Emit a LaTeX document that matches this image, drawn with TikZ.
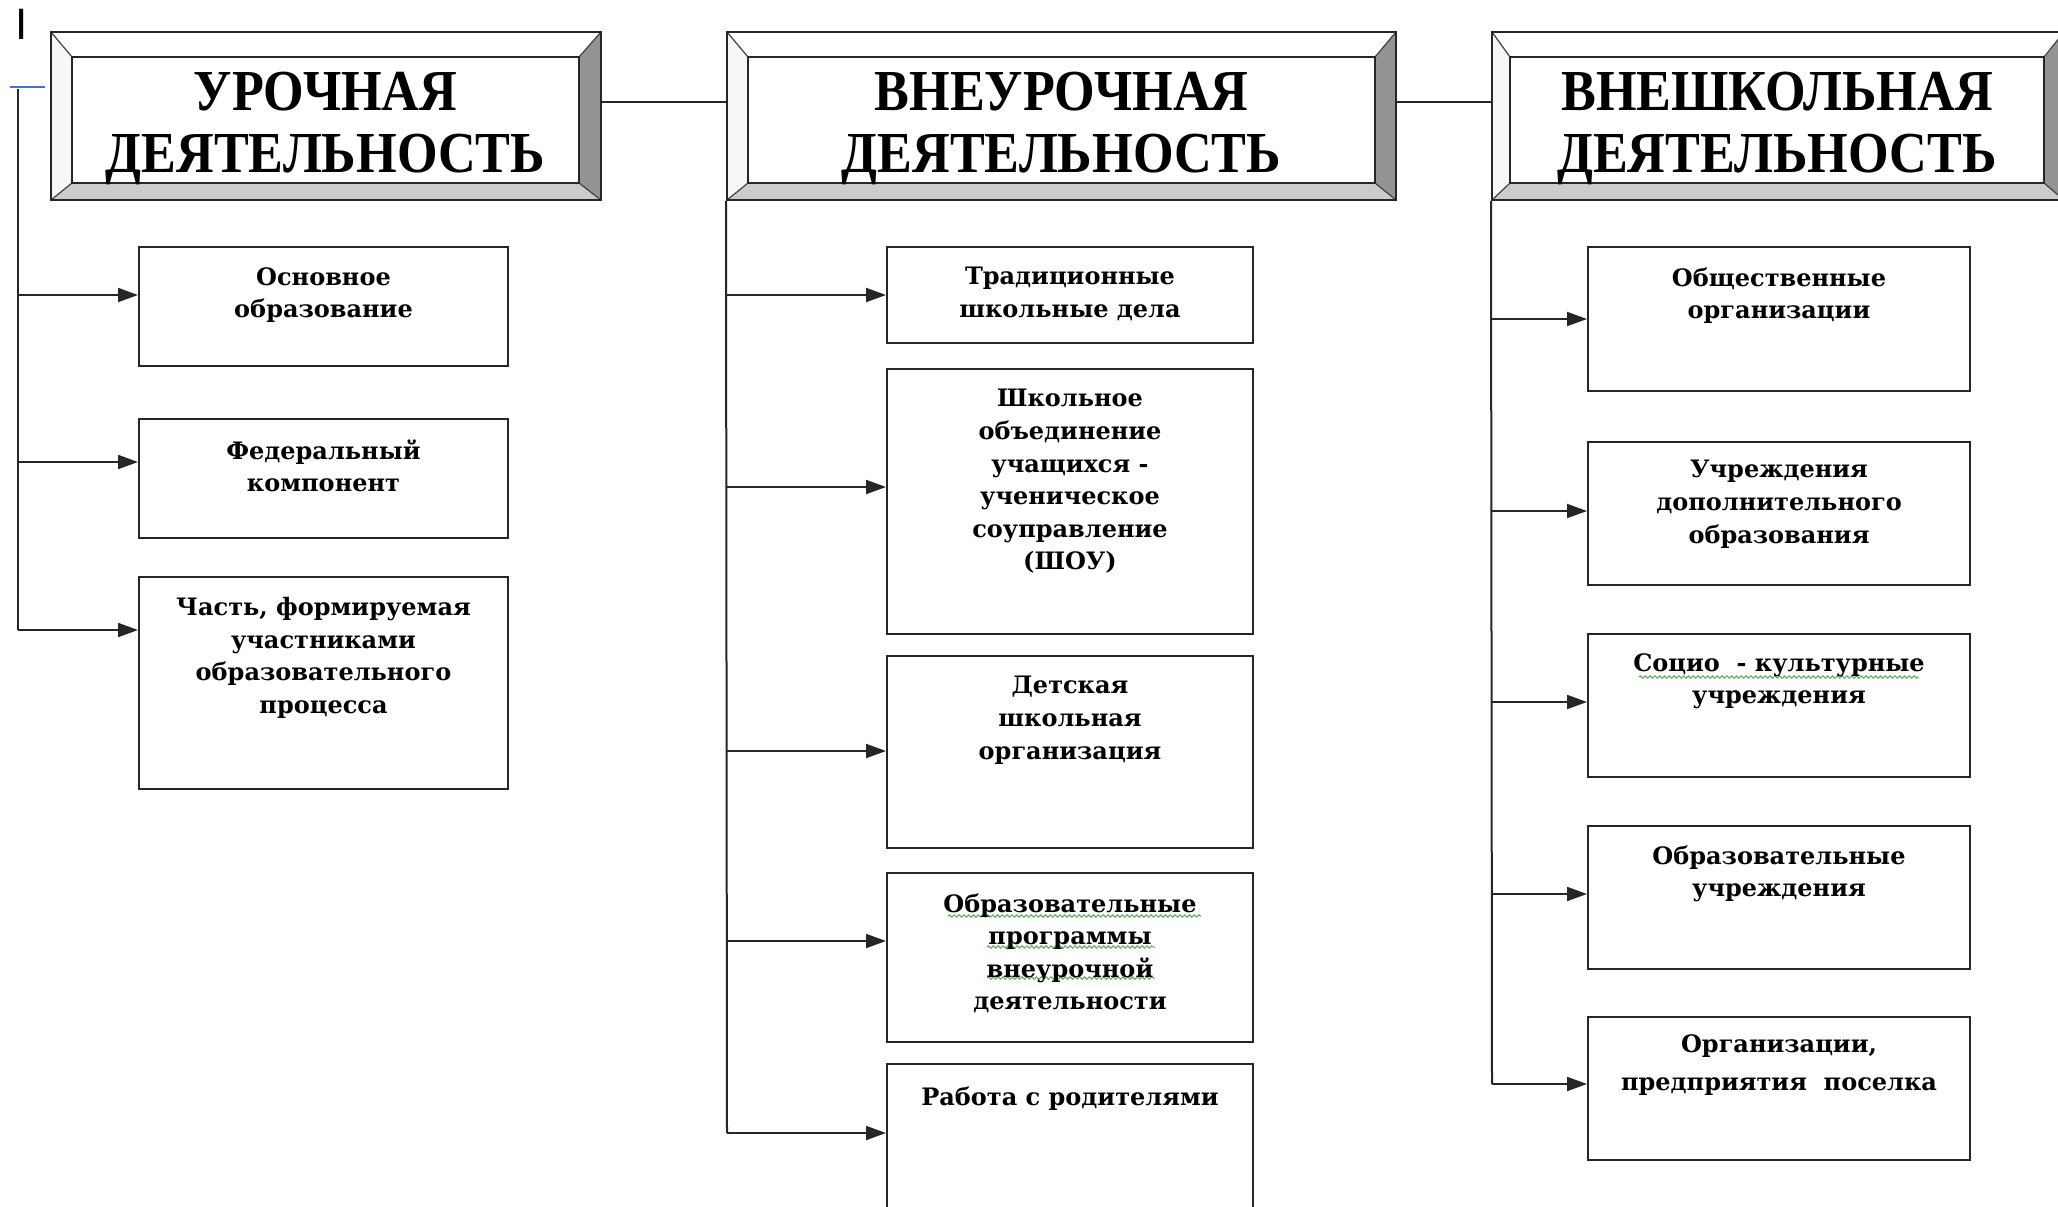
\documentclass[tikz,border=0pt]{standalone}
\usepackage{fontspec}
\setmainfont{DejaVu Serif}
\newfontfamily\headfont[FakeStretch=0.9]{Liberation Serif}
\newfontfamily\sansf{Liberation Sans}
\usetikzlibrary{arrows.meta,fit,decorations.pathmorphing}
\definecolor{wordblue}{RGB}{68,114,196}
\definecolor{squig}{RGB}{90,170,90}
\newcommand\bevelhead[9]{%
  \fill[white] (#2,#3) -- (#4,#3) -- (#8,#7) -- (#6,#7) -- cycle;
  \fill[black!3] (#2,#3) -- (#6,#7) -- (#6,#9) -- (#2,#5) -- cycle;
  \fill[black!42] (#4,#3) -- (#4,#5) -- (#8,#9) -- (#8,#7) -- cycle;
  \fill[black!20] (#2,#5) -- (#4,#5) -- (#8,#9) -- (#6,#9) -- cycle;
  \draw[line width=0.6pt, black!75] (#2,#3) -- (#6,#7) (#4,#3) -- (#8,#7)
        (#2,#5) -- (#6,#9) (#4,#5) -- (#8,#9);
  \node[frame, fit={(#2,#3) (#4,#5)}] (#1o) {};
  \node[frame, fill=white, fit={(#6,#7) (#8,#9)}] (#1) {};
}
\begin{document}
\begin{tikzpicture}[x=0.5pt, y=-0.5pt,
  frame/.style={draw=black!85, line width=1pt, inner sep=0pt},
  box/.style={draw=black!85, line width=1pt, fill=white, inner sep=0pt},
  btext/.style={font=\bfseries\fontsize{12}{16.3}\selectfont, align=center, inner sep=0pt, anchor=north},
  htext/.style={font=\headfont\bfseries\fontsize{29}{31}\selectfont, align=center, inner sep=0pt},
  conn/.style={line width=1pt, draw=black!85},
  arr/.style={conn, -{Triangle[length=10pt,width=7pt]}},
  squiggle/.style={draw=squig, line width=0.5pt, decorate, decoration={snake, amplitude=0.6pt, segment length=2.4pt}}
]
\useasboundingbox (0,0) rectangle (2058,1206);
\fill[white] (0,0) rectangle (2058,1206);
\clip (0,0) rectangle (2058,1206);

% stray marks
\node[font=\sansf\fontsize{22}{22}\selectfont, inner sep=0pt] (mark) at (22,24) {I};
\coordinate (bl1) at (10,87);
\coordinate (bl2) at (45,87);
\draw[wordblue, line width=1pt] (bl1) -- (bl2);

% headers
\bevelhead{h1}{51}{32}{601}{200}{72}{57}{579}{183}
\bevelhead{h2}{727}{32}{1396}{200}{748}{57}{1375}{183}
\bevelhead{h3}{1492}{32}{2064}{200}{1510}{57}{2044}{183}
\node[htext] (h1t) at ([yshift=-4pt]h1.center) {УРОЧНАЯ\\ДЕЯТЕЛЬНОСТЬ};
\node[htext] (h2t) at ([yshift=-4pt]h2.center) {ВНЕУРОЧНАЯ\\ДЕЯТЕЛЬНОСТЬ};
\node[htext] (h3t) at ([yshift=-4pt]h3.center) {ВНЕШКОЛЬНАЯ\\ДЕЯТЕЛЬНОСТЬ};
\draw[conn] ([yshift=7pt]h1o.east) -- ([yshift=7pt]h2o.west);
\draw[conn] ([yshift=7pt]h2o.east) -- ([yshift=7pt]h3o.west);

% column 1 boxes
\node[box, fit={(139,247) (508,366)}] (c11) {};
\node[box, fit={(139,419) (508,538)}] (c12) {};
\node[box, fit={(139,577) (508,789)}] (c13) {};
% column 2 boxes
\node[box, fit={(887,247) (1253,343)}] (c21) {};
\node[box, fit={(887,369) (1253,634)}] (c22) {};
\node[box, fit={(887,656) (1253,848)}] (c23) {};
\node[box, fit={(887,873) (1253,1042)}] (c24) {};
\node[box, fit={(887,1064) (1253,1240)}] (c25) {};
% column 3 boxes
\node[box, fit={(1588,247) (1970,391)}] (c31) {};
\node[box, fit={(1588,442) (1970,585)}] (c32) {};
\node[box, fit={(1588,634) (1970,777)}] (c33) {};
\node[box, fit={(1588,826) (1970,969)}] (c34) {};
\node[box, fit={(1588,1017) (1970,1160)}] (c35) {};

% spell-check squiggles
\draw[squiggle] (948,916) -- (1201,916);
\draw[squiggle] (987,947) -- (1155,947);
\draw[squiggle] (987,978) -- (1155,978);
\draw[squiggle] (1639,677) -- (1919,677);

% texts
\node[btext] (t11) at ([yshift=-10.5pt]c11.north) {Основное\\образование};
\node[btext] (t12) at ([yshift=-10.5pt]c12.north) {Федеральный\\компонент};
\node[btext] (t13) at ([yshift=-10.5pt]c13.north) {Часть, формируемая\\участниками\\образовательного\\процесса};
\node[btext] (t21) at ([yshift=-10.5pt]c21.north) {Традиционные\\школьные дела};
\node[btext] (t22) at ([yshift=-10.5pt]c22.north) {Школьное\\объединение\\учащихся -\\ученическое\\соуправление\\(ШОУ)};
\node[btext] (t23) at ([yshift=-10.5pt]c23.north) {Детская\\школьная\\организация};
\node[btext] (t24) at ([yshift=-10.5pt]c24.north) {Образовательные\\программы\\внеурочной\\деятельности};
\node[btext] (t25) at ([yshift=-11.5pt]c25.north) {Работа с родителями};
\node[btext] (t31) at ([yshift=-10.5pt]c31.north) {Общественные\\организации};
\node[btext] (t32) at ([yshift=-9.5pt]c32.north) {Учреждения\\дополнительного\\образования};
\node[btext] (t33) at ([yshift=-10pt]c33.north) {Социо \ - культурные\\учреждения};
\node[btext] (t34) at ([yshift=-10pt]c34.north) {Образовательные\\учреждения};
\node[btext] (t35) at ([yshift=-9pt]c35.north) {Организации,\\[3pt]предприятия \ поселка};

% trunks
\coordinate (k1) at (18,89);
\coordinate (a11) at (18,295);
\coordinate (a12) at (18,462);
\coordinate (a13) at (18,630);
\draw[conn] (k1) -- (a13);
\draw[arr] (a11) -- (a11 -| c11.west);
\draw[arr] (a12) -- (a12 -| c12.west);
\draw[arr] (a13) -- (a13 -| c13.west);

\coordinate (a21) at (727,295);
\coordinate (a22) at (727,487);
\coordinate (a23) at (727,751);
\coordinate (a24) at (727,941);
\coordinate (a25) at (727,1133);
\draw[conn] (h2o.south west) -- (a25);
\draw[arr] (a21) -- (a21 -| c21.west);
\draw[arr] (a22) -- (a22 -| c22.west);
\draw[arr] (a23) -- (a23 -| c23.west);
\draw[arr] (a24) -- (a24 -| c24.west);
\draw[arr] (a25) -- (a25 -| c25.west);

\coordinate (a31) at (1492,319);
\coordinate (a32) at (1492,511);
\coordinate (a33) at (1492,702);
\coordinate (a34) at (1492,894);
\coordinate (a35) at (1492,1084);
\draw[conn] (h3o.south west) -- (a35);
\draw[arr] (a31) -- (a31 -| c31.west);
\draw[arr] (a32) -- (a32 -| c32.west);
\draw[arr] (a33) -- (a33 -| c33.west);
\draw[arr] (a34) -- (a34 -| c34.west);
\draw[arr] (a35) -- (a35 -| c35.west);
\end{tikzpicture}
\end{document}
